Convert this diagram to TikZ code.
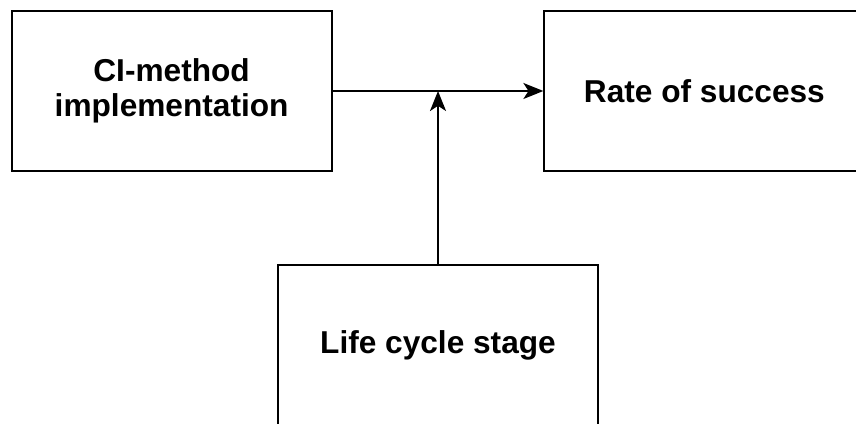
\documentclass[tikz,border=0pt]{standalone}
\usepackage{fontspec}
\setmainfont{Liberation Sans}
\usetikzlibrary{arrows.meta}

\tikzset{
    factor/.style={draw, line width=1.5pt, minimum width=8cm, minimum height=4cm,
        align=center, font=\fontsize{22.5}{25}\selectfont\bfseries},
    link/.style={line width=1.5pt, -{Stealth[length=0.5cm, width=0.4cm, inset=0.13cm]}}
}

\begin{document}
\begin{tikzpicture}
    \useasboundingbox (0,0) rectangle (21.4,10.6);
    \node[factor] (ci) at (4.29,8.325) {CI-method\\implementation};
    \node[factor] (rate) at (17.61,8.325) {Rate of success};
    \node[factor] (life) at (10.95,1.975) {Life cycle stage};
    \draw[link] (ci) -- (rate);
    \draw[link] (life) -- (life |- ci.east);
\end{tikzpicture}
\end{document}
